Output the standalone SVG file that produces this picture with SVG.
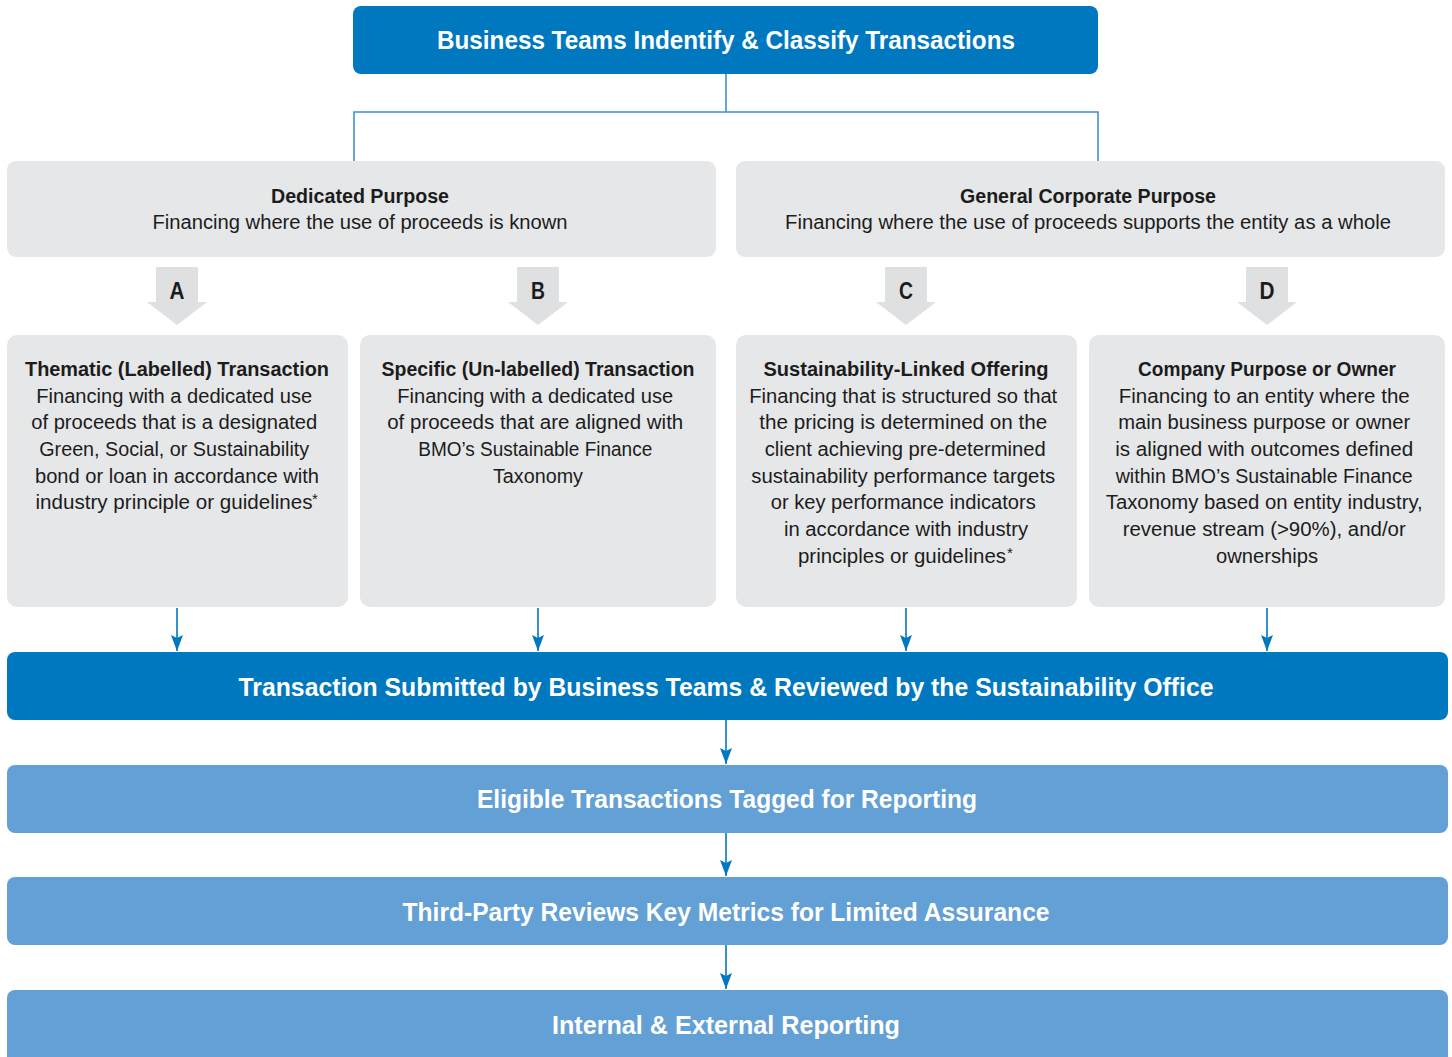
<svg xmlns="http://www.w3.org/2000/svg" width="1452" height="1057" viewBox="0 0 1452 1057">
<style>
.t{font-family:"Liberation Sans",Arial,sans-serif;text-anchor:middle}
.wh{fill:#ffffff;font-weight:bold}
.dk{fill:#1c1c1c}
.b{font-weight:bold}
.ast{font-family:"Liberation Sans",Arial,sans-serif;font-size:15px;fill:#1c1c1c}
.gray{fill:#e6e7e8}
.dblue{fill:#0078c0}
.lblue{fill:#63a0d6}
.blk{fill:#dfe0e1}
.conn{stroke:#0078c0;stroke-width:1.6;fill:none}
.tree{stroke:#3f8fd1;stroke-width:1.6;fill:none}
</style>
<defs>
<marker id="ah" viewBox="0 0 16 12" refX="16" refY="6" markerWidth="16" markerHeight="12" markerUnits="userSpaceOnUse" orient="auto">
<path d="M0,0 L16,6 L0,12 L3,6 Z" fill="#0078c0"/>
</marker>
</defs>

<g id="connectors">
<path class="tree" d="M726,74 V112 M354,161 V112 H1098 V161"/>
<path class="conn" d="M177,608 V651" marker-end="url(#ah)"/>
<path class="conn" d="M538,608 V651" marker-end="url(#ah)"/>
<path class="conn" d="M906,608 V651" marker-end="url(#ah)"/>
<path class="conn" d="M1267,608 V651" marker-end="url(#ah)"/>
<path class="conn" d="M726,720 V764" marker-end="url(#ah)"/>
<path class="conn" d="M726,833 V876" marker-end="url(#ah)"/>
<path class="conn" d="M726,945 V989" marker-end="url(#ah)"/>
</g>

<g id="top">
<rect class="dblue" x="353" y="6" width="745" height="68" rx="8"/>
<text class="t wh" x="726" y="49" font-size="26" textLength="578" lengthAdjust="spacingAndGlyphs">Business Teams Indentify &amp; Classify Transactions</text>
</g>

<g id="dedicated">
<rect class="gray" x="7" y="161" width="709" height="96" rx="9"/>
<text class="t dk b" x="360" y="203" font-size="20" textLength="178" lengthAdjust="spacingAndGlyphs">Dedicated Purpose</text>
<text class="t dk" x="360" y="229" font-size="20" textLength="415" lengthAdjust="spacingAndGlyphs">Financing where the use of proceeds is known</text>
</g>

<g id="general">
<rect class="gray" x="736" y="161" width="709" height="96" rx="9"/>
<text class="t dk b" x="1088" y="203" font-size="20" textLength="256" lengthAdjust="spacingAndGlyphs">General Corporate Purpose</text>
<text class="t dk" x="1088" y="229" font-size="20" textLength="606" lengthAdjust="spacingAndGlyphs">Financing where the use of proceeds supports the entity as a whole</text>
</g>

<g id="arrowA">
<path class="blk" d="M156,267 H198 V302 H207 L177,325 L147,302 H156 Z"/>
<text class="t dk b" x="177" y="299" font-size="23" textLength="15" lengthAdjust="spacingAndGlyphs">A</text>
</g>
<g id="arrowB">
<path class="blk" d="M517,267 H559 V302 H568 L538,325 L508,302 H517 Z"/>
<text class="t dk b" x="538" y="299" font-size="23" textLength="14" lengthAdjust="spacingAndGlyphs">B</text>
</g>
<g id="arrowC">
<path class="blk" d="M885,267 H927 V302 H936 L906,325 L876,302 H885 Z"/>
<text class="t dk b" x="906" y="299" font-size="23" textLength="14" lengthAdjust="spacingAndGlyphs">C</text>
</g>
<g id="arrowD">
<path class="blk" d="M1246,267 H1288 V302 H1297 L1267,325 L1237,302 H1246 Z"/>
<text class="t dk b" x="1267" y="299" font-size="23" textLength="15" lengthAdjust="spacingAndGlyphs">D</text>
</g>

<g id="thematic">
<rect class="gray" x="7" y="335" width="341" height="272" rx="10"/>
<text class="t dk b" x="177" y="376" font-size="20" textLength="304" lengthAdjust="spacingAndGlyphs">Thematic (Labelled) Transaction</text>
<text class="t dk" font-size="20">
<tspan x="177" y="403" textLength="276" lengthAdjust="spacingAndGlyphs">Financing with a dedicated use</tspan>
<tspan x="177" y="429" textLength="286" lengthAdjust="spacingAndGlyphs">of proceeds that is a designated</tspan>
<tspan x="177" y="456" textLength="270" lengthAdjust="spacingAndGlyphs">Green, Social, or Sustainability</tspan>
<tspan x="177" y="483" textLength="284" lengthAdjust="spacingAndGlyphs">bond or loan in accordance with</tspan>
</text>
<text class="t dk" font-size="20" x="174" y="509" textLength="277" lengthAdjust="spacingAndGlyphs">industry principle or guidelines</text>
<text class="ast" x="312" y="504">*</text>
</g>

<g id="specific">
<rect class="gray" x="360" y="335" width="356" height="272" rx="10"/>
<text class="t dk b" x="538" y="376" font-size="20" textLength="313" lengthAdjust="spacingAndGlyphs">Specific (Un-labelled) Transaction</text>
<text class="t dk" font-size="20">
<tspan x="538" y="403" textLength="276" lengthAdjust="spacingAndGlyphs">Financing with a dedicated use</tspan>
<tspan x="538" y="429" textLength="296" lengthAdjust="spacingAndGlyphs">of proceeds that are aligned with</tspan>
<tspan x="538" y="456" textLength="234" lengthAdjust="spacingAndGlyphs">BMO’s Sustainable Finance</tspan>
<tspan x="538" y="483" textLength="90" lengthAdjust="spacingAndGlyphs">Taxonomy</tspan>
</text>
</g>

<g id="linked">
<rect class="gray" x="736" y="335" width="341" height="272" rx="10"/>
<text class="t dk b" x="906" y="376" font-size="20" textLength="285" lengthAdjust="spacingAndGlyphs">Sustainability-Linked Offering</text>
<text class="t dk" font-size="20">
<tspan x="906" y="403" textLength="308" lengthAdjust="spacingAndGlyphs">Financing that is structured so that</tspan>
<tspan x="906" y="429" textLength="288" lengthAdjust="spacingAndGlyphs">the pricing is determined on the</tspan>
<tspan x="908" y="456" textLength="281" lengthAdjust="spacingAndGlyphs">client achieving pre-determined</tspan>
<tspan x="906" y="483" textLength="304" lengthAdjust="spacingAndGlyphs">sustainability performance targets</tspan>
<tspan x="906" y="509" textLength="265" lengthAdjust="spacingAndGlyphs">or key performance indicators</tspan>
<tspan x="906" y="536" textLength="244" lengthAdjust="spacingAndGlyphs">in accordance with industry</tspan>
</text>
<text class="t dk" font-size="20" x="902" y="563" textLength="208" lengthAdjust="spacingAndGlyphs">principles or guidelines</text>
<text class="ast" x="1007" y="558">*</text>
</g>

<g id="company">
<rect class="gray" x="1089" y="335" width="356" height="272" rx="10"/>
<text class="t dk b" x="1267" y="376" font-size="20" textLength="258" lengthAdjust="spacingAndGlyphs">Company Purpose or Owner</text>
<text class="t dk" font-size="20">
<tspan x="1267" y="403" textLength="291" lengthAdjust="spacingAndGlyphs">Financing to an entity where the</tspan>
<tspan x="1267" y="429" textLength="292" lengthAdjust="spacingAndGlyphs">main business purpose or owner</tspan>
<tspan x="1267" y="456" textLength="298" lengthAdjust="spacingAndGlyphs">is aligned with outcomes defined</tspan>
<tspan x="1267" y="483" textLength="297" lengthAdjust="spacingAndGlyphs">within BMO’s Sustainable Finance</tspan>
<tspan x="1267" y="509" textLength="317" lengthAdjust="spacingAndGlyphs">Taxonomy based on entity industry,</tspan>
<tspan x="1267" y="536" textLength="283" lengthAdjust="spacingAndGlyphs">revenue stream (&gt;90%), and/or</tspan>
<tspan x="1267" y="563" textLength="102" lengthAdjust="spacingAndGlyphs">ownerships</tspan>
</text>
</g>

<g id="submitted">
<rect class="dblue" x="7" y="652" width="1441" height="68" rx="8"/>
<text class="t wh" x="726" y="696" font-size="26" textLength="975" lengthAdjust="spacingAndGlyphs">Transaction Submitted by Business Teams &amp; Reviewed by the Sustainability Office</text>
</g>

<g id="eligible">
<rect class="lblue" x="7" y="765" width="1441" height="68" rx="8"/>
<text class="t wh" x="727" y="808" font-size="26" textLength="500" lengthAdjust="spacingAndGlyphs">Eligible Transactions Tagged for Reporting</text>
</g>

<g id="thirdparty">
<rect class="lblue" x="7" y="877" width="1441" height="68" rx="8"/>
<text class="t wh" x="726" y="921" font-size="26" textLength="647" lengthAdjust="spacingAndGlyphs">Third-Party Reviews Key Metrics for Limited Assurance</text>
</g>

<g id="reporting">
<rect class="lblue" x="7" y="990" width="1441" height="74" rx="8"/>
<text class="t wh" x="726" y="1034" font-size="26" textLength="348" lengthAdjust="spacingAndGlyphs">Internal &amp; External Reporting</text>
</g>
</svg>
